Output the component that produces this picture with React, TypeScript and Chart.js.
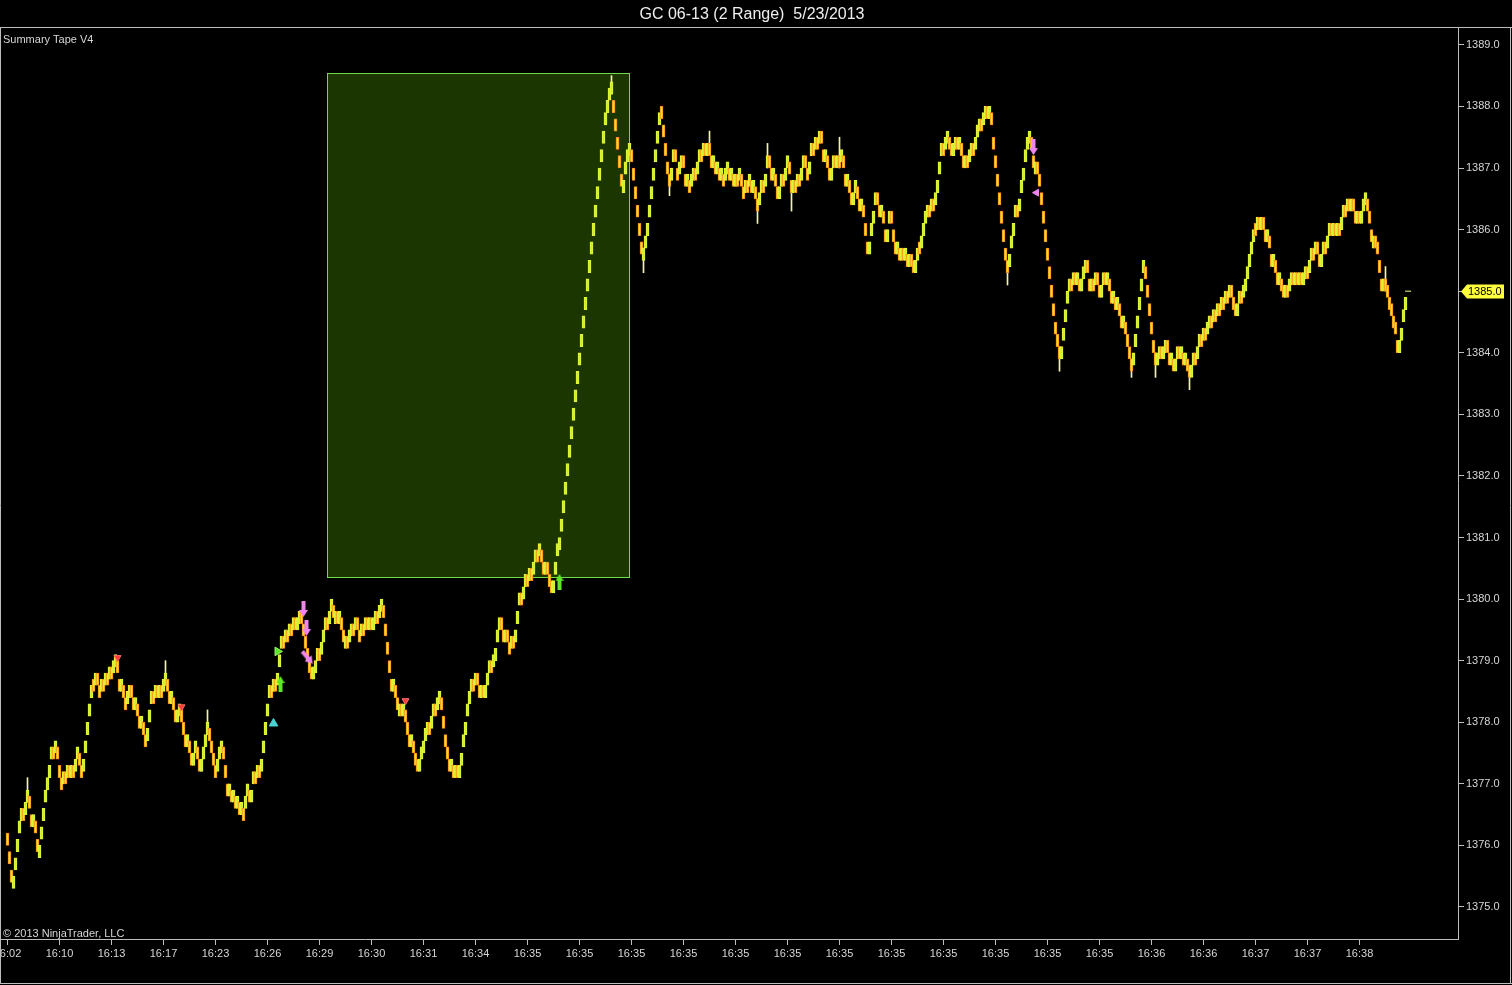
import { useEffect, useRef } from "react";
import { Chart, registerables } from "chart.js";

Chart.register(...registerables);

// ---------- data ----------
const titleText = "GC 06-13 (2 Range)  5/23/2013";
const indicatorText = "Summary Tape V4";
const copyrightText = "© 2013 NinjaTrader, LLC";

const RANGE_SIZE = 0.2; // "2 Range" bars: 2 ticks of 0.1

// close of every range bar, left to right
const closes: number[] = [
  1376.0,1375.7,1375.4,1375.5,1375.8,1376.1,1376.4,1376.6,1376.4,1376.7,
  1376.9,1376.6,1376.3,1376.5,1376.2,1375.9,1376.0,1376.3,1376.6,1376.9,
  1377.1,1377.3,1377.6,1377.4,1377.7,1377.4,1377.1,1376.9,1377.2,1377.0,
  1377.3,1377.1,1377.3,1377.1,1377.4,1377.6,1377.3,1377.1,1377.4,1377.7,
  1378.0,1378.3,1378.6,1378.5,1378.8,1378.6,1378.4,1378.7,1378.5,1378.8,
  1378.6,1378.9,1378.7,1379.0,1379.1,1378.8,1378.5,1378.7,1378.4,1378.2,
  1378.5,1378.6,1378.4,1378.2,1378.4,1378.1,1377.9,1378.1,1377.8,1377.6,
  1377.9,1378.2,1378.5,1378.3,1378.6,1378.4,1378.6,1378.4,1378.7,1378.8,
  1378.5,1378.3,1378.5,1378.2,1378.0,1378.2,1378.3,1378.0,1377.8,1377.6,
  1377.8,1377.5,1377.3,1377.5,1377.7,1377.4,1377.2,1377.4,1377.6,1377.8,
  1378.0,1377.7,1377.5,1377.3,1377.1,1377.4,1377.6,1377.7,1377.4,1377.1,
  1376.8,1377.0,1376.7,1376.9,1376.6,1376.8,1376.5,1376.7,1376.4,1376.8,
  1377.0,1376.7,1376.9,1377.2,1377.0,1377.3,1377.1,1377.4,1377.7,1378.0,
  1378.3,1378.6,1378.4,1378.7,1378.5,1378.8,1379.1,1379.4,1379.2,1379.5,
  1379.3,1379.6,1379.4,1379.7,1379.5,1379.7,1379.8,1379.6,1379.4,1379.2,
  1379.0,1378.8,1378.7,1378.9,1379.0,1379.2,1379.0,1379.3,1379.5,1379.7,
  1379.5,1379.8,1380.0,1379.7,1379.8,1379.6,1379.8,1379.5,1379.3,1379.4,
  1379.2,1379.5,1379.6,1379.4,1379.7,1379.5,1379.3,1379.6,1379.4,1379.7,
  1379.5,1379.7,1379.5,1379.7,1379.8,1379.6,1379.9,1380.0,1379.7,1379.4,
  1379.1,1378.8,1378.5,1378.7,1378.4,1378.2,1378.3,1378.1,1378.3,1378.0,
  1377.8,1377.6,1377.8,1377.5,1377.3,1377.2,1377.4,1377.6,1377.7,1377.9,
  1378.0,1377.8,1378.1,1378.3,1378.1,1378.4,1378.5,1378.2,1377.9,1377.6,
  1377.4,1377.2,1377.4,1377.1,1377.3,1377.1,1377.3,1377.5,1377.8,1378.0,
  1378.3,1378.5,1378.7,1378.5,1378.8,1378.6,1378.4,1378.6,1378.4,1378.6,
  1378.8,1379.0,1378.8,1379.1,1379.2,1379.5,1379.7,1379.5,1379.3,1379.5,
  1379.3,1379.1,1379.4,1379.2,1379.5,1379.8,1380.1,1379.9,1380.2,1380.4,
  1380.2,1380.5,1380.3,1380.6,1380.8,1380.6,1380.9,1380.6,1380.4,1380.6,
  1380.4,1380.2,1380.1,1380.3,1380.6,1380.9,1381.0,1381.3,1381.6,1381.9,
  1382.2,1382.5,1382.8,1383.1,1383.4,1383.7,1384.0,1384.3,1384.6,1384.9,
  1385.2,1385.5,1385.8,1386.1,1386.4,1386.7,1387.0,1387.3,1387.6,1387.9,
  1388.1,1388.3,1388.4,1387.9,1387.6,1387.3,1387.0,1386.7,1386.8,1387.1,
  1387.3,1387.4,1387.1,1386.8,1386.5,1386.2,1385.9,1385.6,1385.7,1385.9,
  1386.1,1386.4,1386.7,1387.0,1387.3,1387.6,1387.9,1387.8,1387.5,1387.2,
  1386.9,1386.7,1387.0,1387.3,1387.1,1386.8,1387.1,1387.2,1387.0,1386.7,
  1386.9,1386.6,1386.9,1387.0,1386.8,1387.1,1387.3,1387.1,1387.4,1387.2,
  1387.4,1387.2,1387.0,1387.2,1386.9,1387.1,1386.8,1387.0,1386.7,1387.0,
  1387.1,1386.8,1387.0,1386.7,1386.9,1386.7,1387.0,1386.7,1386.5,1386.8,
  1386.6,1386.9,1386.6,1386.8,1386.5,1386.3,1386.6,1386.8,1386.6,1386.9,
  1387.2,1387.0,1386.8,1387.0,1386.7,1386.5,1386.7,1386.9,1386.7,1387.0,
  1387.2,1386.9,1386.6,1386.8,1386.6,1386.9,1386.7,1387.0,1387.2,1387.0,
  1386.8,1387.1,1387.4,1387.2,1387.5,1387.3,1387.6,1387.4,1387.1,1387.3,
  1387.0,1386.8,1387.0,1387.2,1387.0,1387.2,1387.0,1387.3,1387.0,1386.7,
  1386.9,1386.6,1386.4,1386.6,1386.8,1386.5,1386.3,1386.5,1386.2,1385.9,
  1385.6,1385.8,1386.1,1386.3,1386.6,1386.4,1386.2,1386.4,1386.1,1385.8,
  1386.0,1386.3,1386.1,1385.8,1385.6,1385.8,1385.5,1385.7,1385.5,1385.7,
  1385.4,1385.6,1385.4,1385.3,1385.5,1385.7,1385.6,1385.9,1386.1,1386.3,
  1386.4,1386.2,1386.5,1386.3,1386.6,1386.8,1387.1,1387.4,1387.2,1387.5,
  1387.6,1387.3,1387.2,1387.4,1387.5,1387.3,1387.5,1387.2,1387.0,1387.2,
  1387.0,1387.3,1387.4,1387.2,1387.5,1387.7,1387.8,1387.6,1387.9,1388.0,
  1387.8,1388.0,1387.7,1387.3,1387.0,1386.7,1386.4,1386.1,1385.8,1385.5,
  1385.3,1385.6,1385.9,1386.1,1386.4,1386.2,1386.5,1386.8,1387.0,1387.3,
  1387.5,1387.6,1387.3,1387.0,1387.1,1386.9,1386.7,1386.4,1386.1,1385.8,
  1385.5,1385.2,1384.9,1384.6,1384.3,1384.1,1383.9,1384.1,1384.4,1384.7,
  1385.0,1385.2,1385.0,1385.3,1385.1,1385.3,1385.0,1385.2,1385.4,1385.5,
  1385.3,1385.0,1385.2,1385.0,1385.3,1385.1,1384.9,1385.1,1385.3,1385.1,
  1385.3,1385.0,1384.8,1385.0,1384.7,1384.9,1384.6,1384.4,1384.6,1384.3,
  1384.1,1383.9,1383.7,1384.0,1384.3,1384.6,1384.9,1385.2,1385.5,1385.2,
  1384.9,1384.6,1384.3,1384.0,1383.8,1384.0,1384.1,1383.9,1384.1,1384.2,
  1384.0,1383.8,1384.0,1383.7,1383.9,1384.1,1383.9,1384.1,1383.8,1384.0,
  1383.7,1383.6,1383.8,1384.0,1383.8,1384.1,1384.3,1384.1,1384.4,1384.2,
  1384.5,1384.6,1384.4,1384.7,1384.5,1384.8,1384.6,1384.9,1384.7,1385.0,
  1384.8,1385.1,1384.9,1384.7,1384.6,1384.8,1385.0,1384.8,1385.1,1385.2,
  1385.4,1385.6,1385.8,1386.0,1385.9,1386.2,1386.0,1386.2,1386.0,1385.8,
  1386.0,1385.7,1385.4,1385.6,1385.3,1385.1,1385.3,1385.0,1384.9,1385.1,
  1384.9,1385.2,1385.3,1385.1,1385.3,1385.1,1385.3,1385.1,1385.3,1385.4,
  1385.2,1385.5,1385.7,1385.5,1385.8,1385.6,1385.4,1385.6,1385.8,1385.6,
  1385.9,1386.1,1385.9,1386.1,1385.9,1386.1,1385.9,1386.2,1386.4,1386.2,
  1386.5,1386.3,1386.5,1386.3,1386.1,1386.3,1386.1,1386.3,1386.5,1386.6,
  1386.3,1386.1,1385.8,1385.9,1385.7,1385.6,1385.3,1385.0,1385.2,1385.0,
  1384.9,1384.7,1384.6,1384.4,1384.3,1384.0,1384.2,1384.4,1384.7,1384.9,
];

// thin wicks sticking out of some bars
const wickBars = [10, 79, 100, 302, 318, 331, 351, 375, 380, 392, 416, 500, 526, 562, 574, 591, 689];
const wickLows = [1376.7, 1378.6, 1377.8, 1388.2, 1385.3, 1386.55, 1387.2, 1386.1, 1387.0, 1386.3, 1387.0, 1385.1, 1383.7, 1383.6, 1383.6, 1383.4, 1385.0];
const wickHighs = [1377.1, 1379.0, 1378.2, 1388.5, 1385.7, 1386.9, 1387.6, 1386.5, 1387.4, 1386.8, 1387.5, 1385.5, 1384.1, 1383.9, 1384.0, 1383.8, 1385.4];

// price axis and time axis ticks
const priceTicks = [1375, 1376, 1377, 1378, 1379, 1380, 1381, 1382, 1383, 1384, 1385, 1386, 1387, 1388, 1389];
const timeTickBars = [0, 26, 52, 78, 104, 130, 156, 182, 208, 234, 260, 286, 312, 338, 364, 390, 416, 442, 468, 494, 520, 546, 572, 598, 624, 650, 676];
const timeTickLabels = [
  "16:02", "16:10", "16:13", "16:17", "16:23", "16:26", "16:29", "16:30", "16:31", "16:34",
  "16:35", "16:35", "16:35", "16:35", "16:35", "16:35", "16:35", "16:35", "16:35", "16:35",
  "16:35", "16:35", "16:36", "16:36", "16:37", "16:37", "16:38",
];

// shaded zone (bar span, price span)
const zoneBars = [159.75, 310.75];
const zonePrices = [1380.36, 1388.55];

// signal markers
const redSetupBars = [55, 87, 199];
const redSetupPrices = [1379.05, 1378.25, 1378.35];
const cyanSignalBars = [133];
const cyanSignalPrices = [1377.98];
const greenTriangleBars = [135];
const greenTrianglePrices = [1379.15];
const greenArrowBars = [136.5, 276];
const greenArrowPrices = [1378.62, 1380.28];
const pinkArrowBars = [148, 149.5, 513];
const pinkArrowPrices = [1379.84, 1379.53, 1387.34];
const pinkDiagBars = [150];
const pinkDiagPrices = [1379.05];
const pinkTriangleBars = [514.5];
const pinkTrianglePrices = [1386.6];

const lastPrice = 1385.0;
const lastPriceBar = 700.3;

// ---------- styles ----------
const FONT = "'Liberation Sans', Arial, sans-serif";
const TEXT = "#d6d6d6";
const LINE = "#bdbdbd";
const UP_FILL = "#cdee34";
const UP_EDGE = "#e4f43a";
const DOWN_FILL = "#ffe41a";
const DOWN_EDGE = "#f08c1c";

function makeArrow(color: string, w: number, h: number): HTMLCanvasElement {
  const c = document.createElement("canvas");
  c.width = w;
  c.height = h;
  const g = c.getContext("2d")!;
  g.fillStyle = color;
  const shaftW = Math.round(w * 0.45);
  const headH = Math.round(h * 0.45);
  g.fillRect((w - shaftW) / 2, 0, shaftW, h - headH);
  g.beginPath();
  g.moveTo(0, h - headH);
  g.lineTo(w, h - headH);
  g.lineTo(w / 2, h);
  g.closePath();
  g.fill();
  return c;
}

const pts = (bars: number[], prices: number[]) => bars.map((b, k) => ({ x: b, y: prices[k] }));

export default function App() {
  const ref = useRef<HTMLCanvasElement>(null);

  useEffect(() => {
    document.body.style.margin = "0";
    document.body.style.background = "#000";
    const canvas = ref.current!;

    const upFlags = closes.map((c, i) => i > 0 && c > closes[i - 1]);
    const bodyData = closes.map((c, i) => ({
      x: i,
      y: upFlags[i] ? [c - RANGE_SIZE, c] : [c, c + RANGE_SIZE],
    }));
    const wickData = wickBars.map((b, k) => ({ x: b, y: [wickLows[k], wickHighs[k]] }));

    const pinkArrow = makeArrow("#ee86ee", 9, 16);
    const greenArrow = makeArrow("#5ee62a", 8, 16);

    const decor = {
      id: "decor",
      beforeDraw(chart: any) {
        const { ctx, width, height } = chart;
        ctx.save();
        ctx.fillStyle = "#000";
        ctx.fillRect(0, 0, width, height);
        ctx.restore();
      },
      beforeDatasetsDraw(chart: any) {
        const { ctx } = chart;
        const xs = chart.scales.x;
        const ys = chart.scales.y;
        const x0 = Math.round(xs.getPixelForValue(zoneBars[0]));
        const x1 = Math.round(xs.getPixelForValue(zoneBars[1]));
        const y0 = Math.round(ys.getPixelForValue(zonePrices[1]));
        const y1 = Math.round(ys.getPixelForValue(zonePrices[0]));
        ctx.save();
        ctx.fillStyle = "#1b3600";
        ctx.fillRect(x0, y0, x1 - x0, y1 - y0);
        ctx.strokeStyle = "#6fdc48";
        ctx.lineWidth = 1;
        ctx.strokeRect(x0 + 0.5, y0 + 0.5, x1 - x0, y1 - y0);
        ctx.restore();
      },
      afterDraw(chart: any) {
        const { ctx } = chart;
        const ys = chart.scales.y;
        ctx.save();
        // frame
        ctx.strokeStyle = LINE;
        ctx.lineWidth = 1;
        ctx.beginPath();
        ctx.moveTo(0, 27.5);
        ctx.lineTo(1512, 27.5);
        ctx.moveTo(0.5, 27);
        ctx.lineTo(0.5, 984);
        ctx.moveTo(0, 983.5);
        ctx.lineTo(1512, 983.5);
        ctx.moveTo(1510.5, 27);
        ctx.lineTo(1510.5, 984);
        ctx.stroke();
        // texts
        ctx.fillStyle = "#eeeeee";
        ctx.font = `16px ${FONT}`;
        ctx.textAlign = "center";
        ctx.textBaseline = "middle";
        ctx.fillText(titleText, 752, 14.5);
        ctx.fillStyle = TEXT;
        ctx.font = `11px ${FONT}`;
        ctx.textAlign = "left";
        ctx.fillText(indicatorText, 3, 40);
        ctx.fillText(copyrightText, 3, 934);
        // last price flag
        const py = Math.round(ys.getPixelForValue(lastPrice)) + 0.5;
        ctx.fillStyle = "#ffff3c";
        ctx.beginPath();
        ctx.moveTo(1461, py);
        ctx.lineTo(1467, py - 7);
        ctx.lineTo(1504, py - 7);
        ctx.lineTo(1504, py + 7);
        ctx.lineTo(1467, py + 7);
        ctx.closePath();
        ctx.fill();
        ctx.fillStyle = "#000";
        ctx.fillText(lastPrice.toFixed(1), 1468, py + 0.5);
        ctx.restore();
      },
    };

    const chart = new Chart(canvas, {
      type: "bar",
      data: {
        datasets: [
          {
            type: "bar",
            data: wickData as any,
            backgroundColor: "#f2f2b4",
            borderWidth: 0,
            barThickness: 1,
            grouped: false,
            order: 3,
          } as any,
          {
            type: "bar",
            data: bodyData as any,
            backgroundColor: upFlags.map((u) => (u ? UP_FILL : DOWN_FILL)),
            borderColor: upFlags.map((u) => (u ? UP_EDGE : DOWN_EDGE)),
            borderWidth: 1,
            borderSkipped: false,
            barThickness: 3,
            grouped: false,
            order: 2,
          } as any,
          {
            type: "scatter",
            data: pts(redSetupBars, redSetupPrices),
            pointStyle: "triangle",
            rotation: 180,
            radius: 4,
            backgroundColor: "#ff3b3b",
            borderColor: "#ff6a6a",
            borderWidth: 1,
            order: 0,
          } as any,
          {
            type: "scatter",
            data: pts(cyanSignalBars, cyanSignalPrices),
            pointStyle: "triangle",
            rotation: 0,
            radius: 5,
            backgroundColor: "#48d2d2",
            borderColor: "#48d2d2",
            borderWidth: 1,
            order: 0,
          } as any,
          {
            type: "scatter",
            data: pts(greenTriangleBars, greenTrianglePrices),
            pointStyle: "triangle",
            rotation: 90,
            radius: 5,
            backgroundColor: "#5ee62a",
            borderColor: "#8cf060",
            borderWidth: 1,
            order: 0,
          } as any,
          {
            type: "scatter",
            data: pts(greenArrowBars, greenArrowPrices),
            pointStyle: greenArrow,
            rotation: 180,
            radius: 5,
            order: 0,
          } as any,
          {
            type: "scatter",
            data: pts(pinkArrowBars, pinkArrowPrices),
            pointStyle: pinkArrow,
            rotation: 0,
            radius: 5,
            order: 0,
          } as any,
          {
            type: "scatter",
            data: pts(pinkDiagBars, pinkDiagPrices),
            pointStyle: pinkArrow,
            rotation: -40,
            radius: 5,
            order: 0,
          } as any,
          {
            type: "scatter",
            data: pts(pinkTriangleBars, pinkTrianglePrices),
            pointStyle: "triangle",
            rotation: 270,
            radius: 4,
            backgroundColor: "#ee86ee",
            borderColor: "#ee86ee",
            borderWidth: 1,
            order: 0,
          } as any,
          {
            type: "scatter",
            data: [{ x: lastPriceBar, y: lastPrice }],
            pointStyle: "line",
            radius: 3,
            borderColor: "#ffff90",
            borderWidth: 1,
            order: 0,
          } as any,
        ],
      },
      options: {
        responsive: false,
        animation: false,
        events: [],
        layout: { padding: { left: 1, top: 27, right: 0, bottom: 0 }, autoPadding: false },
        plugins: {
          legend: { display: false },
          tooltip: { enabled: false },
          title: { display: false },
        },
        scales: {
          x: {
            type: "linear",
            position: "bottom",
            min: -3.25,
            max: 725.25,
            offset: false,
            grid: {
              display: true,
              offset: false,
              drawOnChartArea: false,
              drawTicks: true,
              tickLength: 6,
              color: LINE,
            },
            border: { display: true, color: LINE },
            afterBuildTicks: (scale: any) => {
              scale.ticks = timeTickBars.map((v) => ({ value: v }));
            },
            afterFit: (scale: any) => {
              scale.height = 46;
              scale.paddingLeft = 0;
              scale.paddingRight = 0;
            },
            ticks: {
              autoSkip: false,
              maxRotation: 0,
              minRotation: 0,
              padding: 2,
              color: TEXT,
              font: { family: FONT, size: 11 },
              callback: (v: any) => {
                const k = timeTickBars.indexOf(Number(v));
                return k >= 0 ? timeTickLabels[k] : "";
              },
            },
          },
          y: {
            type: "linear",
            position: "right",
            min: 1374.48,
            max: 1389.29,
            grid: {
              display: true,
              drawOnChartArea: false,
              drawTicks: true,
              tickLength: 6,
              color: LINE,
            },
            border: { display: true, color: LINE },
            afterBuildTicks: (scale: any) => {
              scale.ticks = priceTicks.map((v) => ({ value: v }));
            },
            afterFit: (scale: any) => {
              scale.width = 54;
              scale.paddingTop = 0;
              scale.paddingBottom = 0;
            },
            ticks: {
              autoSkip: false,
              padding: 2,
              color: TEXT,
              font: { family: FONT, size: 11 },
              callback: (v: any) => Number(v).toFixed(1),
            },
          },
        },
      } as any,
      plugins: [decor],
    });

    return () => chart.destroy();
  }, []);

  return (
    <div style={{ position: "fixed", left: 0, top: 0, width: 1512, height: 985, background: "#000" }}>
      <canvas ref={ref} width={1512} height={985} style={{ display: "block" }} />
    </div>
  );
}
